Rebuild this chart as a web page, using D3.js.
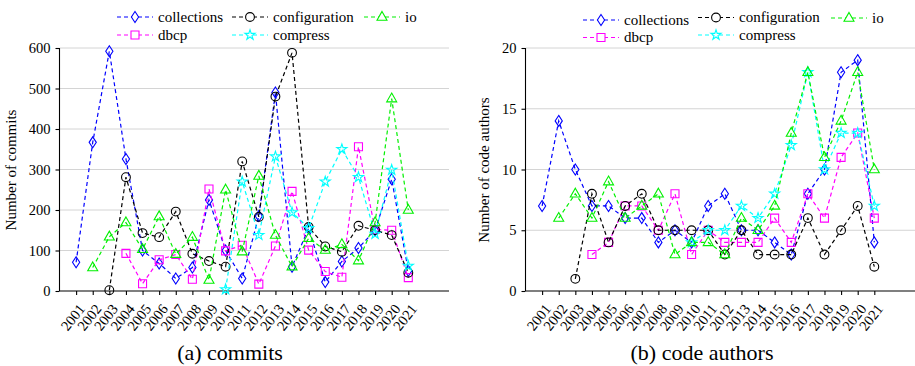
<!DOCTYPE html>
<html>
<head>
<meta charset="utf-8">
<script src="https://cdn.jsdelivr.net/npm/d3@7"></script>
</head>
<body style="margin:0;background:#fff">
<svg id="chart" width="915" height="366" style="display:block"></svg>
<script>
'use strict';

const FONT = "'Liberation Serif'";

const years = d3.range(2001, 2022);
const seriesNames = ['collections', 'dbcp', 'configuration', 'compress', 'io'];

// number of commits per year (null = project not yet present)
const commitsCollections = [71, 367, 592, 326, 100, 68, 31, 58, 225, 100, 31, 185, 490, 60, 155, 22, 73, 106, 150, 276, 50];
const commitsDbcp = [null, null, null, 93, 18, 77, 90, 29, 252, 99, 113, 17, 111, 246, 101, 48, 34, 356, 152, 150, 33];
const commitsConfiguration = [null, null, 2, 281, 143, 133, 196, 92, 74, 60, 320, 183, 480, 588, 158, 110, 97, 161, 150, 138, 45];
const commitsCompress = [null, null, null, null, null, null, null, null, null, 4, 270, 138, 332, 194, 155, 270, 350, 281, 141, 299, 62];
const commitsIo = [null, 58, 134, 169, 103, 184, 91, 133, 27, 250, 97, 284, 138, 60, 130, 101, 115, 75, 169, 475, 200];

// number of code authors per year
const authorsCollections = [7, 14, 10, 7, 7, 6, 6, 4, 5, 4, 7, 8, 5, 5, 4, 3, 8, 10, 18, 19, 4];
const authorsDbcp = [null, null, null, 3, 4, 7, 7, 5, 8, 3, 5, 4, 4, 4, 6, 4, 8, 6, 11, 13, 6];
const authorsConfiguration = [null, null, 1, 8, 4, 7, 8, 5, 5, 5, 5, 3, 5, 3, 3, 3, 6, 3, 5, 7, 2];
const authorsCompress = [null, null, null, null, null, null, null, null, null, 4, 5, 5, 7, 6, 8, 12, 18, 10, 13, 13, 7];
const authorsIo = [null, 6, 8, 6, 9, 6, 7, 8, 3, 4, 4, 3, 6, 5, 7, 13, 18, 11, 14, 18, 10];

const commitTicks = [0, 100, 200, 300, 400, 500, 600];
const authorTicks = [0, 5, 10, 15, 20];

const colors = {
  collections: '#0000ff',
  dbcp: '#ff00ff',
  configuration: '#000000',
  compress: '#00ffff',
  io: '#00f000'
};

const markerPath = {
  collections: 'M0,-5.5L3.6,0L0,5.5L-3.6,0Z',
  dbcp: 'M-4,-4H4V4H-4Z',
  configuration: d3.symbol(d3.symbolCircle, Math.PI * 4.4 * 4.4)(),
  compress: d3.symbol(d3.symbolStar, 32)(),
  io: 'M0,-5.6L5,3.2L-5,3.2Z'
};

const svg = d3.select('#chart');

function drawPanel(p) {
  const g = svg.append('g');
  const x = d3.scaleLinear().domain([2000, 2023.45]).range([p.left, p.right]);
  const y = d3.scaleLinear().domain([0, p.max]).range([291, 48]);

  // grid
  g.append('g')
    .selectAll('line')
    .data(p.ticks.slice(1))
    .join('line')
    .attr('x1', p.left)
    .attr('x2', p.right)
    .attr('y1', d => y(d))
    .attr('y2', d => y(d))
    .attr('stroke', '#d4d4d4')
    .attr('stroke-width', 1);

  const yAxis = g.append('g')
    .attr('transform', `translate(${p.left},0)`)
    .call(d3.axisLeft(y).tickValues(p.ticks).tickSize(4).tickPadding(5));
  yAxis.select('.domain').attr('d', `M0,${y(p.max)}V${y(0)}`);

  const xAxis = g.append('g')
    .attr('transform', `translate(0,${y(0)})`)
    .call(d3.axisBottom(x).tickValues(years).tickSize(4).tickFormat(d3.format('d')));
  xAxis.select('.domain').attr('d', `M${p.left},0H${p.right}`);
  xAxis.selectAll('text')
    .attr('text-anchor', 'end')
    .attr('dy', null)
    .attr('y', 0)
    .attr('transform', 'translate(9,18) rotate(-52)');

  g.selectAll('.tick text')
    .style('font-family', FONT)
    .style('font-size', '14.5px')
    .attr('fill', '#000');
  g.selectAll('.domain, .tick line').attr('stroke', '#000').attr('stroke-width', 1.1);

  // series
  const line = d3.line()
    .defined(d => d.v !== null)
    .x(d => x(d.year))
    .y(d => y(d.v));

  seriesNames.forEach(name => {
    const pts = years.map((year, i) => ({ year, v: p.data[name][i] }));
    g.append('path')
      .attr('d', line(pts))
      .attr('fill', 'none')
      .attr('stroke', colors[name])
      .attr('stroke-width', 1.2)
      .attr('stroke-dasharray', '4,3');
    g.append('g')
      .selectAll('path')
      .data(pts.filter(d => d.v !== null))
      .join('path')
      .attr('transform', d => `translate(${x(d.year)},${y(d.v)})`)
      .attr('d', markerPath[name])
      .attr('fill', 'none')
      .attr('stroke', colors[name])
      .attr('stroke-width', 1.1);
  });

  // y title
  g.append('text')
    .attr('transform', `translate(${p.titleX},170) rotate(-90)`)
    .attr('text-anchor', 'middle')
    .style('font-family', FONT)
    .style('font-size', '15px')
    .text(p.yTitle);

  // caption
  g.append('text')
    .attr('x', p.captionX)
    .attr('y', 360)
    .attr('text-anchor', 'middle')
    .style('font-family', FONT)
    .style('font-size', '22px')
    .text(p.caption);

  // legend
  p.legend.forEach(item => {
    const lg = g.append('g').attr('transform', `translate(${item.x},${item.y})`);
    lg.append('line')
      .attr('x1', 0).attr('x2', 36)
      .attr('stroke', colors[item.name])
      .attr('stroke-width', 1.2)
      .attr('stroke-dasharray', '4,3');
    lg.append('path')
      .attr('transform', 'translate(18,0)')
      .attr('d', markerPath[item.name])
      .attr('fill', '#fff')
      .attr('stroke', colors[item.name])
      .attr('stroke-width', 1.1);
    lg.append('text')
      .attr('x', 41)
      .attr('dy', '0.33em')
      .style('font-family', FONT)
      .style('font-size', '15px')
      .text(item.name);
  });
}

drawPanel({
  left: 59.5, right: 449, max: 600, ticks: commitTicks,
  yTitle: 'Number of commits', titleX: 16, caption: '(a) commits', captionX: 230,
  data: {
    collections: commitsCollections, dbcp: commitsDbcp, configuration: commitsConfiguration,
    compress: commitsCompress, io: commitsIo
  },
  legend: [
    { name: 'collections', x: 117, y: 17 },
    { name: 'dbcp', x: 117, y: 35 },
    { name: 'configuration', x: 232, y: 17 },
    { name: 'compress', x: 232, y: 35 },
    { name: 'io', x: 364, y: 17 }
  ]
});

drawPanel({
  left: 525.5, right: 915, max: 20, ticks: authorTicks,
  yTitle: 'Number of code authors', titleX: 489, caption: '(b) code authors', captionX: 702,
  data: {
    collections: authorsCollections, dbcp: authorsDbcp, configuration: authorsConfiguration,
    compress: authorsCompress, io: authorsIo
  },
  legend: [
    { name: 'collections', x: 583, y: 20 },
    { name: 'dbcp', x: 583, y: 37.5 },
    { name: 'configuration', x: 698, y: 17.5 },
    { name: 'compress', x: 698, y: 35 },
    { name: 'io', x: 831, y: 18 }
  ]
});
</script>
</body>
</html>
